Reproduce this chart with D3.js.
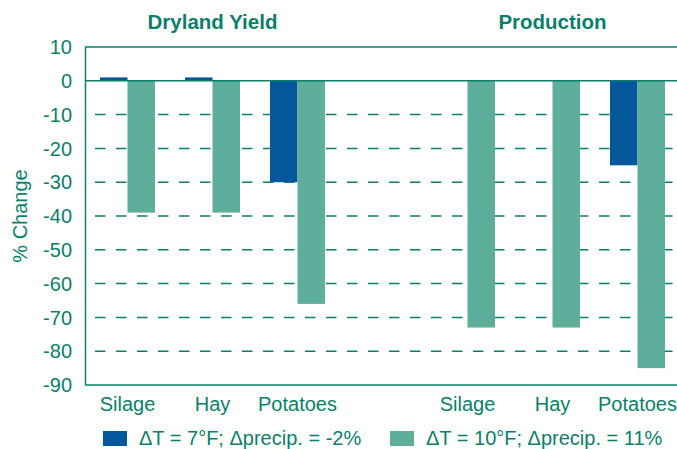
<!DOCTYPE html>
<html>
<head>
<meta charset="utf-8">
<script src="https://cdn.jsdelivr.net/npm/d3@7"></script>
<style>
  body { margin: 0; background: #fff; }
  text { font-family: "Liberation Sans", Arial, Helvetica, sans-serif; fill: #0a7f69; }
</style>
</head>
<body>
<div id="chart"></div>
<script>
// Dados
var crops = ["Silage", "Hay", "Potatoes"];
var panels = ["Dryland Yield", "Production"];
var seriesNames = ["ΔT = 7°F; Δprecip. = -2%", "ΔT = 10°F; Δprecip. = 11%"];
var drylandT7 = [1, 1, -30];
var drylandT10 = [-39, -39, -66];
var productionT7 = [0, 0, -25];
var productionT10 = [-73, -73, -85];
var yTicks = [10, 0, -10, -20, -30, -40, -50, -60, -70, -80, -90];

var width = 677, height = 449;
var teal = "#0a7f69", blue = "#03589b", green = "#5eae9c";

var svg = d3.select("#chart")
  .append("svg")
  .attr("width", width)
  .attr("height", height);

// Slots: 3 crops, gap, 3 crops
var slots = crops.map(function(c) { return "d-" + c })
  .concat(["gap"])
  .concat(crops.map(function(c) { return "p-" + c }));

var x = d3.scaleBand()
  .domain(slots)
  .range([85, 680]);

var inner = d3.scaleBand()
  .domain([0, 1])
  .range([15, x.bandwidth() - 15]);

var y = d3.scaleLinear()
  .domain([-90, 10])
  .range([385, 47]);

// Monta as linhas das barras
var rows = [];
crops.forEach(function(c, i) {
  rows.push({ slot: "d-" + c, s: 0, v: drylandT7[i] });
  rows.push({ slot: "d-" + c, s: 1, v: drylandT10[i] });
  rows.push({ slot: "p-" + c, s: 0, v: productionT7[i] });
  rows.push({ slot: "p-" + c, s: 1, v: productionT10[i] });
});

// Gridlines tracejadas
svg.selectAll(".grid")
  .data(yTicks.filter(function(t) { return t !== 10 && t !== 0 && t !== -90 }))
  .enter().append("line")
  .attr("x1", 95)
  .attr("x2", width)
  .attr("y1", function(d) { return y(d) })
  .attr("y2", function(d) { return y(d) })
  .attr("stroke", teal)
  .attr("stroke-width", 1.5)
  .attr("stroke-dasharray", "10.5,10.5");

// Linhas sólidas em cima e embaixo
svg.selectAll(".solid")
  .data([10, -90])
  .enter().append("line")
  .attr("x1", 85)
  .attr("x2", width)
  .attr("y1", function(d) { return y(d) })
  .attr("y2", function(d) { return y(d) })
  .attr("stroke", teal)
  .attr("stroke-width", 1.5);

// Barras
svg.selectAll(".bar")
  .data(rows)
  .enter().append("rect")
  .attr("x", function(d) { return x(d.slot) + inner(d.s) })
  .attr("width", inner.bandwidth())
  .attr("y", function(d) { return y(Math.max(0, d.v)) })
  .attr("height", function(d) { return Math.abs(y(d.v) - y(0)) })
  .attr("fill", function(d) { return d.s === 0 ? blue : green });

// Linha do zero
svg.append("line")
  .attr("x1", 85)
  .attr("x2", width)
  .attr("y1", y(0))
  .attr("y2", y(0))
  .attr("stroke", teal)
  .attr("stroke-width", 1.5);

// Eixo esquerdo
svg.append("line")
  .attr("x1", 85.5)
  .attr("x2", 85.5)
  .attr("y1", y(10))
  .attr("y2", y(-90))
  .attr("stroke", teal)
  .attr("stroke-width", 1.5);

// Labels do eixo y
svg.selectAll(".ytick")
  .data(yTicks)
  .enter().append("text")
  .attr("x", 72)
  .attr("y", function(d) { return y(d) })
  .attr("dy", "0.36em")
  .attr("text-anchor", "end")
  .attr("font-size", 20)
  .text(function(d) { return d });

// Título do eixo y
svg.append("text")
  .attr("transform", "translate(27," + y(-40) + ") rotate(-90)")
  .attr("text-anchor", "middle")
  .attr("font-size", 20)
  .text("% Change");

// Labels do eixo x
svg.selectAll(".xlabel")
  .data(slots.filter(function(s) { return s !== "gap" }))
  .enter().append("text")
  .attr("x", function(d) { return x(d) + x.bandwidth() / 2 })
  .attr("y", 411)
  .attr("text-anchor", "middle")
  .attr("font-size", 20)
  .text(function(d) { return d.slice(2) });

// Títulos dos painéis
svg.selectAll(".title")
  .data(panels)
  .enter().append("text")
  .attr("x", function(d, i) { var s = (i === 0 ? "d-" : "p-") + "Hay"; return x(s) + x.bandwidth() / 2 })
  .attr("y", 29)
  .attr("text-anchor", "middle")
  .attr("font-weight", "bold")
  .attr("font-size", 20.5)
  .text(function(d) { return d });

// Legenda
var legendX = [103, 390];
seriesNames.forEach(function(name, i) {
  svg.append("rect")
    .attr("x", legendX[i])
    .attr("y", 431)
    .attr("width", 24)
    .attr("height", 15)
    .attr("fill", i === 0 ? blue : green);
  svg.append("text")
    .attr("x", legendX[i] + 36)
    .attr("y", 445)
    .attr("font-size", 20)
    .text(name);
});
</script>
</body>
</html>
